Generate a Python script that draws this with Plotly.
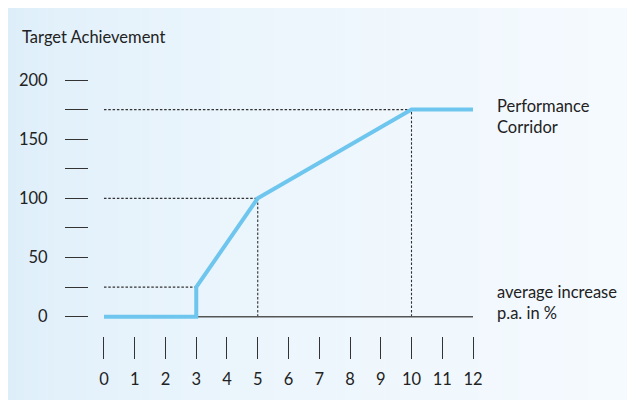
import plotly.graph_objects as go

# curve: target achievement vs. average increase p.a.
curve_x = [0, 3, 3, 5, 10, 12]
curve_y = [0, 0, 25, 100, 175, 175]

# corner points that get dotted guide lines
h_guide_x = [3, 5, 10]
h_guide_y = [25, 100, 175]
v_guide_x = [5, 10]
v_guide_y = [100, 175]

x_ticks = list(range(0, 13))
y_label_ticks = [0, 50, 100, 150, 200]
y_minor_step = 25

# the page has an 8px body margin, so the figure fills the rest of the window
W, H = 627, 392
PL, PR, PT, PB = 81, 472, 62, 328  # plot area in px
FONT = "Lato"
FS = 16.5
BLUE = "#6ec6ee"
GUIDE = dict(color="#333", width=1.1, dash="2.5px,1.8px")


def px_x(p):
    return (p - PL) / (PR - PL)


def px_y(p):
    return (PB - p) / (PB - PT)


fig = go.Figure()

# dotted guides
for gx, gy in zip(h_guide_x, h_guide_y):
    fig.add_trace(go.Scatter(x=[x_ticks[0], gx], y=[gy, gy], mode="lines", line=GUIDE))
for gx, gy in zip(v_guide_x, v_guide_y):
    fig.add_trace(go.Scatter(x=[gx, gx], y=[y_label_ticks[0], gy], mode="lines", line=GUIDE))

# baseline
fig.add_trace(go.Scatter(x=[x_ticks[0], x_ticks[-1]], y=[0, 0], mode="lines",
                         line=dict(color="#555", width=1.5)))

# main curve
fig.add_trace(go.Scatter(x=curve_x, y=curve_y, mode="lines",
                         line=dict(color=BLUE, width=4)))

# background gradient panel
c0 = (219, 237, 249)
c1 = (245, 250, 254)
n = 80
shapes = []
for i in range(n):
    t = (i + 0.5) / n
    f = t ** 0.5
    col = tuple(round(a + (b - a) * f) for a, b in zip(c0, c1))
    xa = W * i / n
    xb = W * (i + 1) / n + 0.6
    shapes.append(dict(type="rect", xref="paper", yref="paper",
                       x0=px_x(xa), x1=px_x(xb), y0=px_y(H), y1=px_y(0),
                       fillcolor="rgb(%d,%d,%d)" % col, line=dict(width=0),
                       layer="below"))

fig.update_layout(
    width=W, height=H,
    margin=dict(l=PL, r=W - PR, t=PT, b=H - PB),
    paper_bgcolor="white",
    plot_bgcolor="rgba(0,0,0,0)",
    showlegend=False,
    shapes=shapes,
    font=dict(family=FONT, size=FS, color="#222"),
    xaxis=dict(
        range=[-15 / 30.78, 12 + 7 / 30.78],
        tickmode="array", tickvals=x_ticks,
        ticks="outside", ticklen=22, tickwidth=1.3, tickcolor="#333",
        ticklabelstandoff=6,
        showline=False, showgrid=False, zeroline=False,
        tickfont=dict(family=FONT, size=FS, color="#222"),
    ),
    yaxis=dict(
        range=[-(336 - 316.7) / 1.1835, 200 + 10 / 1.1835],
        tickmode="array", tickvals=y_label_ticks,
        ticks="outside", ticklen=23, tickwidth=1.3, tickcolor="#333",
        minor=dict(dtick=y_minor_step, tick0=0, ticks="outside", ticklen=23,
                   tickwidth=1.3, tickcolor="#333"),
        ticklabelstandoff=14,
        showline=False, showgrid=False, zeroline=False,
        tickfont=dict(family=FONT, size=FS, color="#222"),
    ),
)

fig.add_annotation(text="Target Achievement", xref="paper", yref="paper",
                   x=px_x(12), y=px_y(29), xanchor="left", yanchor="middle",
                   showarrow=False, font=dict(family=FONT, size=FS, color="#222"))
fig.add_annotation(text="Performance<br>Corridor", xref="paper", yref="paper",
                   x=px_x(487), y=px_y(108), xanchor="left", yanchor="middle",
                   align="left", showarrow=False,
                   font=dict(family=FONT, size=FS, color="#222"))
fig.add_annotation(text="average increase<br>p.a. in %", xref="paper", yref="paper",
                   x=px_x(487), y=px_y(294.5), xanchor="left", yanchor="middle",
                   align="left", showarrow=False,
                   font=dict(family=FONT, size=FS, color="#222"))

fig.write_html("out.html")
